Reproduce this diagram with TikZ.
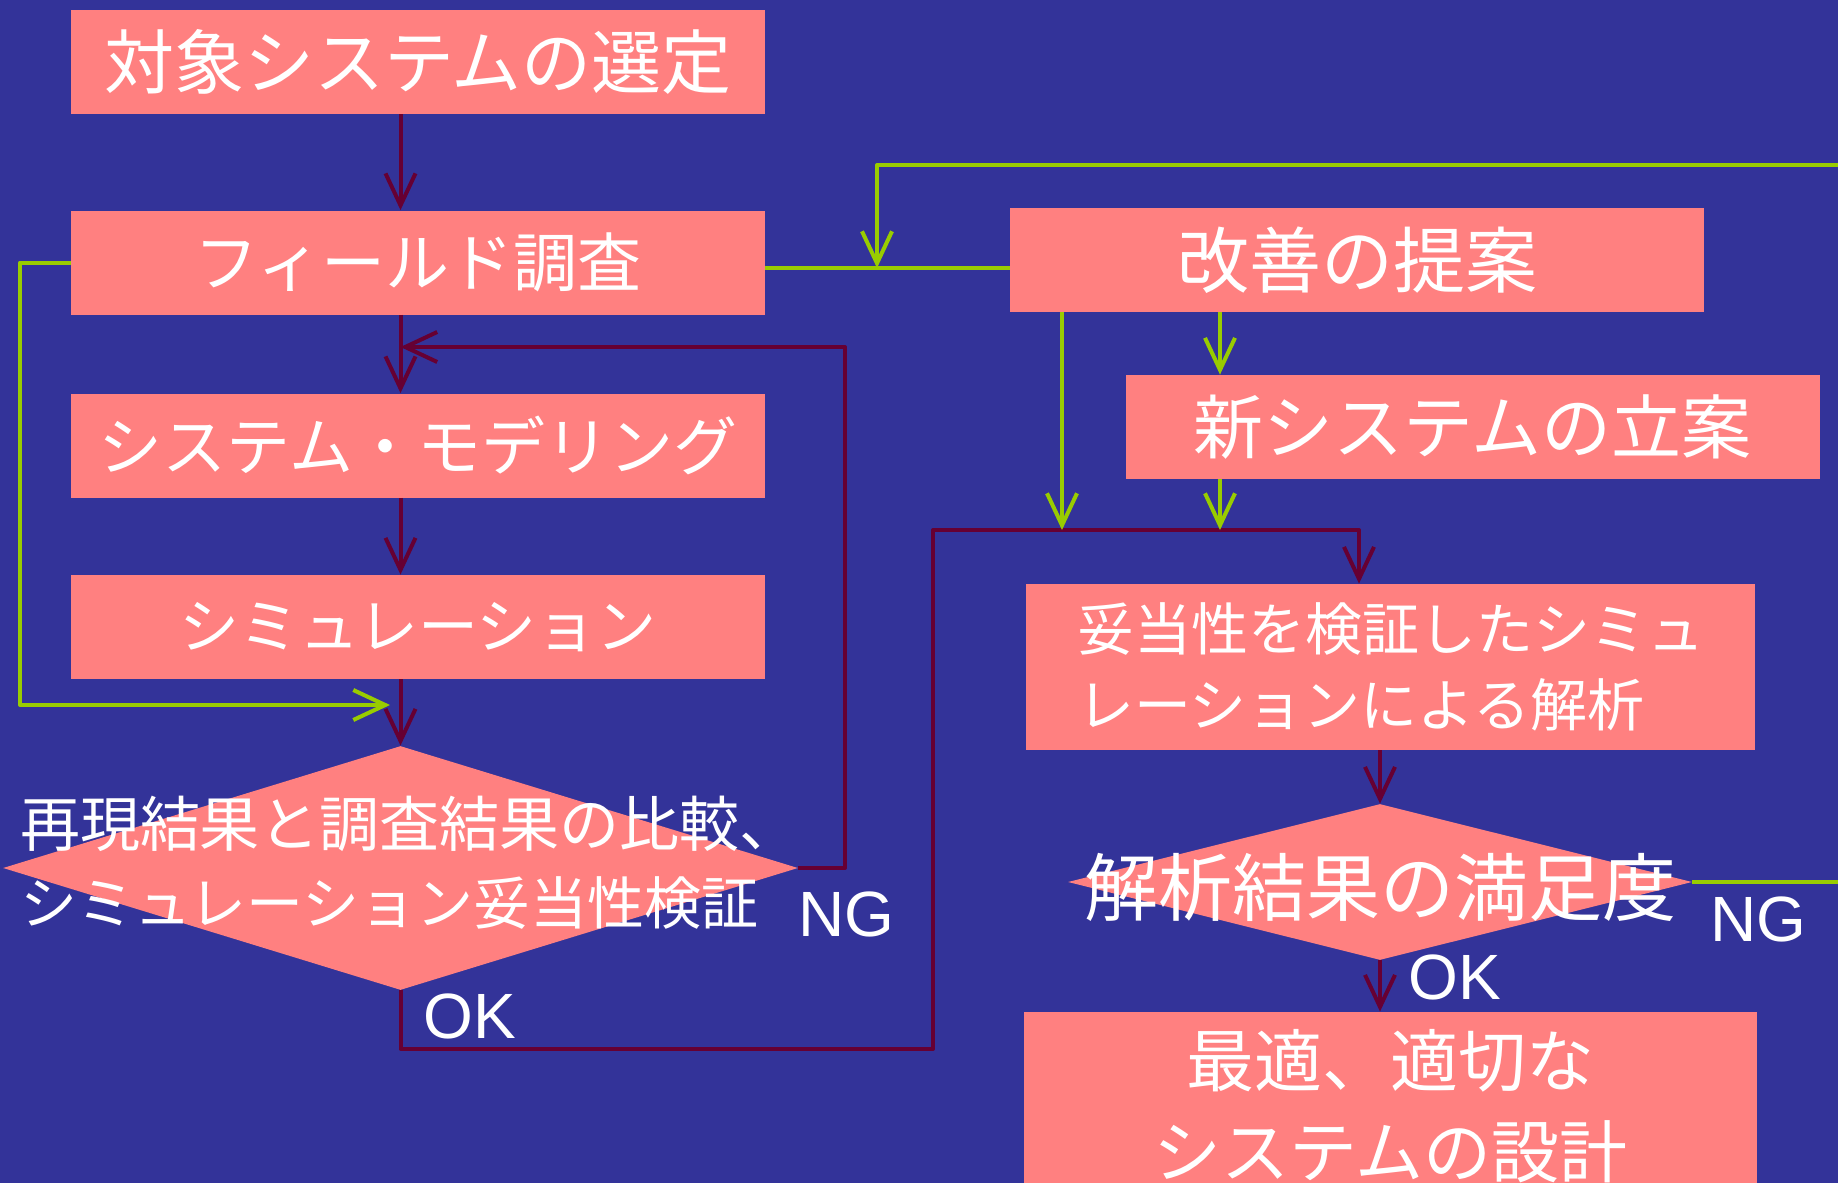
\documentclass[tikz,border=0pt]{standalone}
\usepackage{fontspec}
\setmainfont{Liberation Sans}
\newfontfamily\jpfont{Noto Sans CJK JP}
\usetikzlibrary{shapes.geometric,arrows.meta}
\definecolor{haikei}{RGB}{51,51,153}
\definecolor{momo}{RGB}{255,128,128}
\definecolor{enji}{RGB}{102,0,51}
\definecolor{kimidori}{RGB}{153,204,0}
\begin{document}
\begin{tikzpicture}[line join = round,>={Straight Barb[length=16pt,width=15pt]},x = 0.5pt,y = -0.5pt,
    hako/.style={fill=momo,text=white,inner sep=0pt,minimum width=347pt,minimum height=52pt,font=\jpfont\fontsize{35}{42}\selectfont},
    hishi/.style={diamond,fill=momo,inner sep=0pt},
    moji/.style={text=white,inner sep=0pt},
    aka/.style={draw=enji,line width=2pt},
    midori/.style={draw=kimidori,line width=2pt},
    kotae/.style={text=white,inner sep=0pt,font=\fontsize{32}{38}\selectfont}]
    %背景
    \useasboundingbox (0,0) rectangle (1838,1183);
    \clip (0,0) rectangle (1838,1183);
    \fill[haikei] (0,0) rectangle (1838,1183);
    %左の列
    \node[hako] (sentei) at (418,62) {対象システムの選定};
    \node[hako,font=\jpfont\fontsize{32}{38}\selectfont] (chousa) at (418,262.5) {フィールド調査};
    \node[hako,font=\jpfont\fontsize{32}{38}\selectfont] (model) at (418,445.5) {システム・モデリング};
    \node[hako,font=\jpfont\fontsize{30}{36}\selectfont] (sim) at (418,627) {シミュレーション};
    \node[hishi,minimum width=397.5pt,minimum height=122pt] (hikaku) at (400.5,868) {};
    \node[moji,align=left,font=\jpfont\fontsize{30}{39}\selectfont] (hikakumoji) at (410,863) {再現結果と調査結果の比較、\\{\fontsize{28.5}{39}\selectfont シミュレーション妥当性検証}};
    %右の列
    \node[hako,font=\jpfont\fontsize{36}{42}\selectfont] (kaizen) at (1357,260) {改善の提案};
    \node[hako] (shin) at (1472.5,427) {新システムの立案};
    \node[hako,align=left,minimum width=364.5pt,minimum height=83pt,font=\jpfont\fontsize{28.5}{38}\selectfont] (kaiseki) at (1390.5,667) {妥当性を検証したシミュ\\レーションによる解析};
    \node[hishi,minimum width=312pt,minimum height=78pt] (manzoku) at (1380,882) {};
    \node[moji,font=\jpfont\fontsize{37}{44}\selectfont] (manzokumoji) at (1380,887) {解析結果の満足度};
    \node[hako,align=center,minimum width=366.5pt,minimum height=94pt,font=\jpfont\fontsize{34}{45.5}\selectfont] (sekkei) at (1390.5,1106) {最適、適切な\\システムの設計};
    %分岐点
    \coordinate (modori) at (400.5,347);
    \coordinate (ngkado) at (845,347);
    \coordinate (okkado) at (933,1049);
    \coordinate (gouryu) at (933,530);
    \coordinate (gouryu2) at (1359,530);
    \coordinate (g1) at (1062,530);
    \coordinate (g2) at (1220,530);
    \coordinate (ue) at (877,165);
    \coordinate (ueya) at (877,268);
    \coordinate (hidari) at (20,262.5);
    \coordinate (hidarishita) at (20,705);
    \coordinate (sashikomi) at (390,705);
    %赤の矢印
    \draw[aka,->] (sentei.south -| hikaku) -- (chousa.north -| hikaku);
    \draw[aka,->] (chousa.south -| hikaku) -- (model.north -| hikaku);
    \draw[aka,->] (model.south -| hikaku) -- (sim.north -| hikaku);
    \draw[aka,->] (sim.south -| hikaku) -- (hikaku.north);
    \draw[aka,->] (hikaku.east) -| (ngkado) -- (modori);
    \draw[aka,->] (hikaku.south) |- (okkado) -- (gouryu) -| (gouryu2 |- kaiseki.north);
    \draw[aka,->] (kaiseki.south -| manzoku) -- (manzoku.north);
    \draw[aka,->] (manzoku.south) -- (sekkei.north -| manzoku);
    %緑の矢印
    \draw[midori,->] (chousa.west) -- (hidari) -- (hidarishita) -- (sashikomi);
    \draw[midori] (chousa.east |- ueya) -- (kaizen.west |- ueya);
    \draw[midori,->] (manzoku.east) -- (1900,882) |- (ue) -- (ueya);
    \draw[midori,->] (kaizen.south -| g1) -- (g1);
    \draw[midori,->] (kaizen.south -| g2) -- (shin.north -| g2);
    \draw[midori,->] (shin.south -| g2) -- (g2);
    %OK・NG
    \node[kotae] (ng1) at (846,914) {NG};
    \node[kotae] (ok1) at (470,1016) {OK};
    \node[kotae] (ng2) at (1758,919) {NG};
    \node[kotae] (ok2) at (1455,977) {OK};
\end{tikzpicture}
\end{document}
